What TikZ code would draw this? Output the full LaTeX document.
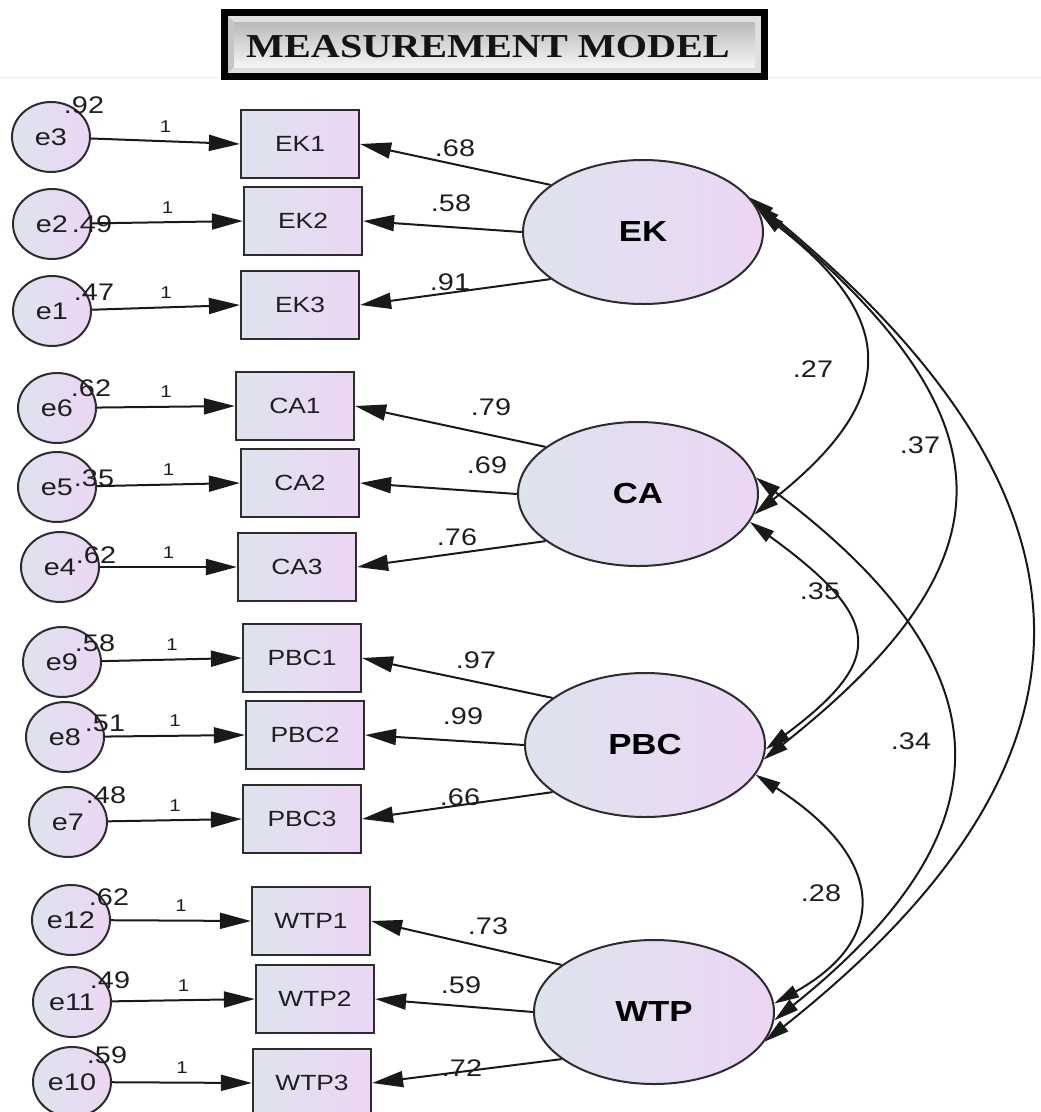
\documentclass[tikz,border=0pt]{standalone}
\usepackage{fontspec}
\setmainfont{Liberation Sans}[FakeStretch=1.2]
\newfontfamily\titlefont{Liberation Serif}[FakeStretch=1.2]
\usetikzlibrary{arrows.meta,shapes.geometric}
\definecolor{fillL}{RGB}{222,227,238}
\definecolor{fillR}{RGB}{236,214,244}
\definecolor{edgec}{RGB}{45,45,45}
\definecolor{txt}{RGB}{30,30,30}
\begin{document}
\begin{tikzpicture}[x=1pt,y=-1pt,
  errnode/.style={ellipse, draw=edgec, line width=2pt, minimum width=78pt, minimum height=70pt, inner sep=0pt,
    left color=fillL, right color=fillR, font=\fontsize{24}{24}\selectfont, text=txt},
  obsbox/.style={rectangle, draw=edgec, line width=2.2pt, minimum width=118pt, minimum height=68pt, inner sep=0pt,
    left color=fillL, right color=fillR, font=\fontsize{22}{22}\selectfont, text=txt},
  latent/.style={ellipse, draw=edgec, line width=2pt, minimum width=240pt, minimum height=144pt, inner sep=0pt,
    left color=fillL, right color=fillR, font=\bfseries\fontsize{29}{29}\selectfont, text=black},
  arr/.style={line width=2pt, draw=black!90, -{Triangle[length=31pt,width=16pt]}},
  cov/.style={line width=2pt, draw=black!90, {Triangle[length=25pt,width=13pt]}-{Triangle[length=25pt,width=13pt]}},
  one/.style={font=\fontsize{17}{17}\selectfont, text=txt, inner sep=0pt},
  num/.style={font=\fontsize{24}{24}\selectfont, text=txt, inner sep=0pt},
  titletext/.style={font=\titlefont\bfseries\fontsize{33.5}{34}\selectfont, text=black!92, inner sep=0pt},
]
\useasboundingbox (0,0) rectangle (1041,1112);

% title
\draw[gray!15, line width=1pt] (0,77) -- (1041,77);
\fill[black] (221,9) rectangle (768,80);
\fill[gray!25] (228,16) rectangle (761,73);
\fill[gray!45] (228,16) -- (234,22) -- (234,67) -- (228,73) -- cycle;
\shade[top color=gray!55, bottom color=gray!8] (234,22) rectangle (755,67);
\node[titletext, anchor=base] (title) at (488,57) {MEASUREMENT MODEL};

% latent variables
\node[latent] (EK)  at (643,232)  {EK};
\node[latent] (CA)  at (638,494)  {CA};
\node[latent] (PBC) at (645,745)  {PBC};
\node[latent] (WTP) at (654,1012) {WTP};

% observed indicators
\node[obsbox] (EK1) at (300,144) {EK1};
\node[obsbox] (EK2) at (303,221) {EK2};
\node[obsbox] (EK3) at (300,305) {EK3};
\node[obsbox] (CA1) at (295,406) {CA1};
\node[obsbox] (CA2) at (300,483) {CA2};
\node[obsbox] (CA3) at (297,567) {CA3};
\node[obsbox] (PBC1) at (302,658) {PBC1};
\node[obsbox] (PBC2) at (305,735) {PBC2};
\node[obsbox] (PBC3) at (302,819) {PBC3};
\node[obsbox] (WTP1) at (311,921) {WTP1};
\node[obsbox] (WTP2) at (315,999) {WTP2};
\node[obsbox] (WTP3) at (312,1083) {WTP3};

% error terms
\node[errnode] (e3)  at (51,137)  {e3};
\node[errnode] (e2)  at (52,224)  {e2};
\node[errnode] (e1)  at (52,311)  {e1};
\node[errnode] (e6)  at (57,408)  {e6};
\node[errnode] (e5)  at (57,487)  {e5};
\node[errnode] (e4)  at (60,567)  {e4};
\node[errnode] (e9)  at (62,662)  {e9};
\node[errnode] (e8)  at (65,737)  {e8};
\node[errnode] (e7)  at (68,822)  {e7};
\node[errnode] (e12) at (71,920)  {e12};
\node[errnode] (e11) at (72,1002) {e11};
\node[errnode] (e10) at (72,1082) {e10};

% variances
\node[num] (v3)  at (84,105)  {.92};
\node[num] (v2)  at (92,224)  {.49};
\node[num] (v1)  at (94,292)  {.47};
\node[num] (v6)  at (91,388)  {.62};
\node[num] (v5)  at (94,478)  {.35};
\node[num] (v4)  at (96,555)  {.62};
\node[num] (v9)  at (95,643)  {.58};
\node[num] (v8)  at (105,723) {.51};
\node[num] (v7)  at (106,795) {.48};
\node[num] (v12) at (109,897) {.62};
\node[num] (v11) at (110,980) {.49};
\node[num] (v10) at (107,1055) {.59};

% error paths
\draw[arr] (e3)  -- node[one, above=8pt] (o3) {1} (EK1.west);
\draw[arr] (e2)  -- node[one, above=8pt] (o2) {1} (EK2.west);
\draw[arr] (e1)  -- node[one, above=8pt] (o1) {1} (EK3.west);
\draw[arr] (e6)  -- node[one, above=8pt] (o6) {1} (CA1.west);
\draw[arr] (e5)  -- node[one, above=8pt] (o5) {1} (CA2.west);
\draw[arr] (e4)  -- node[one, above=8pt] (o4) {1} (CA3.west);
\draw[arr] (e9)  -- node[one, above=8pt] (o9) {1} (PBC1.west);
\draw[arr] (e8)  -- node[one, above=8pt] (o8) {1} (PBC2.west);
\draw[arr] (e7)  -- node[one, above=8pt] (o7) {1} (PBC3.west);
\draw[arr] (e12) -- node[one, above=8pt] (o12) {1} (WTP1.west);
\draw[arr] (e11) -- node[one, above=8pt] (o11) {1} (WTP2.west);
\draw[arr] (e10) -- node[one, above=8pt] (o10) {1} (WTP3.west);

% loadings
\draw[arr] (EK.153) -- (EK1.east);
\draw[arr] (EK.west) -- (EK2.east);
\draw[arr] (EK.207) -- (EK3.east);
\draw[arr] (CA.153) -- (CA1.east);
\draw[arr] (CA.west) -- (CA2.east);
\draw[arr] (CA.207) -- (CA3.east);
\draw[arr] (PBC.153) -- (PBC1.east);
\draw[arr] (PBC.west) -- (PBC2.east);
\draw[arr] (PBC.207) -- (PBC3.east);
\draw[arr] (WTP.153) -- (WTP1.east);
\draw[arr] (WTP.west) -- (WTP2.east);
\draw[arr] (WTP.207) -- (WTP3.east);

\node[num] (l1)  at (455,148)  {.68};
\node[num] (l2)  at (451,203)  {.58};
\node[num] (l3)  at (450,282)  {.91};
\node[num] (l4)  at (491,407)  {.79};
\node[num] (l5)  at (487,465)  {.69};
\node[num] (l6)  at (457,537)  {.76};
\node[num] (l7)  at (476,660)  {.97};
\node[num] (l8)  at (463,716)  {.99};
\node[num] (l9)  at (460,797)  {.66};
\node[num] (l10) at (488,926)  {.73};
\node[num] (l11) at (461,985)  {.59};
\node[num] (l12) at (462,1068) {.72};

% covariances
\draw[cov] (EK.10) .. controls (899,320) and (899,400) .. (CA.-10);
\draw[cov] (EK.14) .. controls (1016,420) and (1016,560) .. (PBC.-7);
\draw[cov] (EK.18) .. controls (1120,500) and (1120,760) .. (WTP.-15);
\draw[cov] (CA.-14) .. controls (885,620) and (885,660) .. (PBC.-2);
\draw[cov] (CA.8) .. controls (1012,670) and (1012,830) .. (WTP.-4);
\draw[cov] (PBC.-15) .. controls (888,860) and (888,940) .. (WTP.4);

\node[num] (c1) at (813,369) {.27};
\node[num] (c2) at (920,445) {.37};
\node[num] (c3) at (820,591) {.35};
\node[num] (c4) at (911,741) {.34};
\node[num] (c5) at (821,893) {.28};
\end{tikzpicture}
\end{document}
